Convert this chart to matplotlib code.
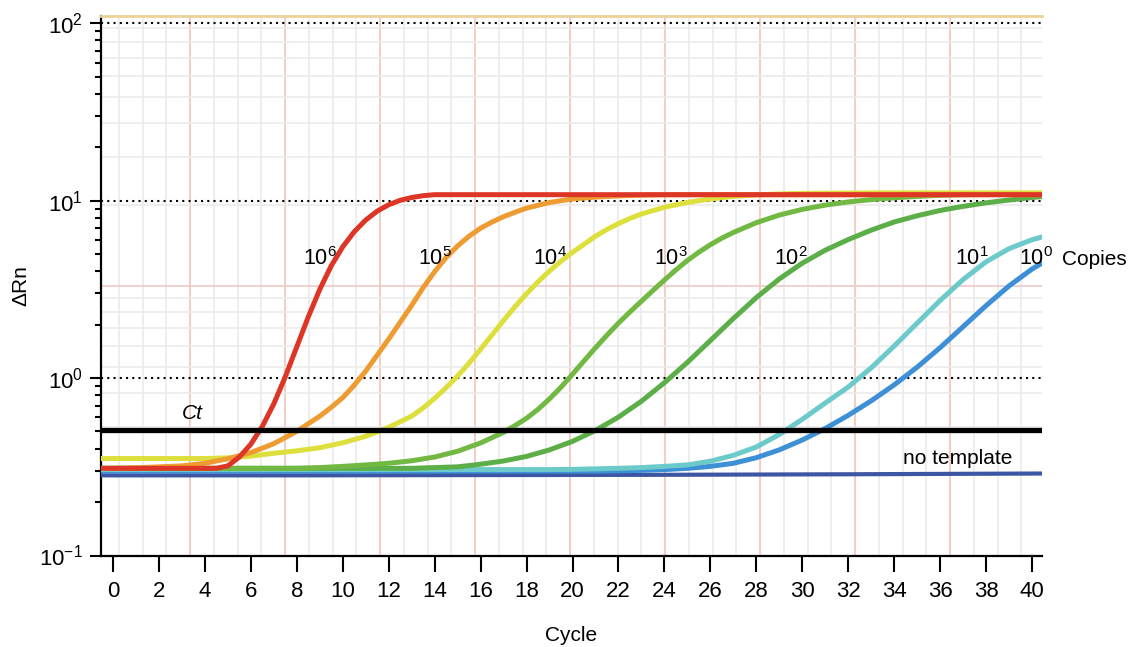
import numpy as np
import matplotlib
matplotlib.use('Agg')
import matplotlib.pyplot as plt
from matplotlib.ticker import LogLocator, NullFormatter

plt.rcParams['font.family'] = ['Liberation Sans', 'DejaVu Sans']
plt.rcParams['mathtext.fontset'] = 'custom'
plt.rcParams['mathtext.rm'] = 'Liberation Sans'
plt.rcParams['mathtext.it'] = 'Liberation Sans:italic'
plt.rcParams['mathtext.bf'] = 'Liberation Sans:bold'

# ---------------- data ----------------
red_cycles = [-1, 4.5, 5, 5.5, 6, 6.5, 7, 7.5, 8, 8.5, 9, 9.5, 10, 10.5, 11, 11.5,
              12, 12.5, 13, 13.5, 14, 41]
red_values = [0.31, 0.31, 0.32, 0.359, 0.424, 0.534, 0.716, 1.017, 1.50, 2.213,
              3.162, 4.295, 5.495, 6.683, 7.78, 8.73, 9.484, 10.05, 10.42, 10.67,
              10.81, 10.81]

orange_cycles = [-1, 0, 1, 2, 3, 4, 5, 6, 7, 8, 9, 9.5, 10, 10.5, 11, 11.5, 12,
                 12.5, 13, 13.5, 14, 14.5, 15, 15.5, 16, 16.5, 17, 17.5, 18, 19,
                 20, 21, 22, 23, 24, 25, 41]
orange_values = [0.31, 0.31, 0.312, 0.316, 0.320, 0.331, 0.351, 0.380, 0.427, 0.501,
                 0.610, 0.684, 0.776, 0.912, 1.096, 1.349, 1.660, 2.065, 2.570,
                 3.236, 3.981, 4.786, 5.559, 6.310, 6.998, 7.586, 8.128, 8.610,
                 9.078, 9.772, 10.23, 10.47, 10.64, 10.74, 10.79, 10.8, 10.8]

yellow_cycles = [-1, 4, 5, 6, 7, 8, 9, 10, 11, 12, 13, 13.5, 14, 14.5, 15, 15.5,
                 16, 16.5, 17, 17.5, 18, 18.5, 19, 19.5, 20, 20.5, 21, 21.5, 22,
                 22.5, 23, 24, 25, 26, 27, 28, 29, 30, 33, 41]
yellow_values = [0.352, 0.352, 0.355, 0.363, 0.377, 0.389, 0.405, 0.432, 0.470,
                 0.528, 0.610, 0.679, 0.769, 0.883, 1.028, 1.216, 1.455, 1.754,
                 2.113, 2.529, 2.992, 3.491, 4.018, 4.560, 5.117, 5.675, 6.310,
                 6.887, 7.430, 7.943, 8.414, 9.183, 9.772, 10.23, 10.57, 10.79,
                 10.91, 10.99, 11.07, 11.07]

green3_cycles = [-1, 8, 9, 10, 11, 12, 13, 14, 15, 16, 17, 17.5, 18, 18.5, 19,
                 19.5, 20, 20.5, 21, 21.5, 22, 22.5, 23, 23.5, 24, 24.5, 25, 25.5,
                 26, 26.5, 27, 28, 29, 30, 31, 32, 33, 34, 35, 36, 37, 39, 41]
green3_values = [0.31, 0.31, 0.313, 0.318, 0.324, 0.331, 0.342, 0.359, 0.387,
                 0.431, 0.495, 0.540, 0.594, 0.667, 0.764, 0.889, 1.052, 1.25,
                 1.483, 1.746, 2.042, 2.36, 2.716, 3.119, 3.573, 4.074, 4.603,
                 5.129, 5.649, 6.152, 6.622, 7.516, 8.299, 8.933, 9.441, 9.84,
                 10.14, 10.38, 10.57, 10.72, 10.81, 10.89, 10.9]

green2_cycles = [-1, 12, 13, 14, 15, 16, 17, 18, 19, 20, 21, 22, 23, 24, 25, 26,
                 27, 28, 29, 30, 31, 32, 33, 34, 35, 36, 37, 38, 39, 40, 41]
green2_values = [0.31, 0.31, 0.310, 0.313, 0.316, 0.327, 0.341, 0.362, 0.394,
                 0.440, 0.507, 0.603, 0.741, 0.942, 1.227, 1.629, 2.168, 2.844,
                 3.622, 4.446, 5.260, 6.039, 6.823, 7.586, 8.222, 8.810, 9.290,
                 9.727, 10.09, 10.42, 10.72]

cyan_cycles = [-1, 19, 20, 21, 22, 23, 24, 25, 26, 27, 28, 29, 30, 31, 32, 33,
               34, 35, 36, 37, 38, 39, 40, 41]
cyan_values = [0.305, 0.305, 0.306, 0.308, 0.310, 0.313, 0.318, 0.324, 0.340,
               0.367, 0.409, 0.481, 0.586, 0.724, 0.891, 1.143, 1.517, 2.042,
               2.742, 3.597, 4.529, 5.370, 6.026, 6.531]

blue_cycles = [-1, 21, 22, 23, 24, 25, 26, 27, 28, 29, 30, 31, 32, 33, 34, 35,
               36, 37, 38, 39, 40, 41]
blue_values = [0.299, 0.299, 0.300, 0.302, 0.305, 0.310, 0.318, 0.331, 0.356,
               0.394, 0.448, 0.520, 0.617, 0.745, 0.916, 1.153, 1.486, 1.950,
               2.564, 3.311, 4.121, 4.920]

nt_cycles = [-1, 8, 16, 24, 32, 41]
nt_values = [0.283, 0.283, 0.284, 0.285, 0.287, 0.290]

ct_threshold = 0.511

series = [
    ("no template", nt_cycles, nt_values, '#3c56a3'),
    ("1e0", blue_cycles, blue_values, '#3d8fd6'),
    ("1e1", cyan_cycles, cyan_values, '#6ccaca'),
    ("1e2", green2_cycles, green2_values, '#5cae48'),
    ("1e3", green3_cycles, green3_values, '#72b944'),
    ("1e4", yellow_cycles, yellow_values, '#dde03c'),
    ("1e5", orange_cycles, orange_values, '#ee9c32'),
    ("1e6", red_cycles, red_values, '#dd3526'),
]

copy_labels = [r'$10^{6}$', r'$10^{5}$', r'$10^{4}$', r'$10^{3}$',
               r'$10^{2}$', r'$10^{1}$', r'$10^{0}$']
copy_label_x = [9.0, 14.0, 19.0, 24.3, 29.5, 37.4, 40.15]

# ---------------- figure ----------------
W, H = 1129, 647
fig = plt.figure(figsize=(W / 100, H / 100), dpi=100)
ax = fig.add_axes([101 / W, 1 - 555.5 / H, 941 / W, 539.5 / H])
ax.set_yscale('log')
xmin, xmax = -0.52, 40.43
ymin, ymax = 0.1, 109.9
ax.set_xlim(xmin, xmax)
ax.set_ylim(ymin, ymax)

# decorative background grid
j = 0
while True:
    c = 0.26 + 1.0335 * j
    if c > xmax:
        break
    if j % 4 == 3:
        ax.axvline(c, color='#f2c9bd', lw=1.3, zorder=0)
    else:
        ax.axvline(c, color='#ebebeb', lw=1.2, zorder=0)
    j += 1
for base in (0.0, 0.5):
    for m in range(1, 10):
        f = base + 0.5 * np.log10(m)
        if f <= 0:
            continue
        col = '#efcaca' if m == 1 else '#ebebeb'
        ax.plot([0, 1], [f, f], transform=ax.transAxes, color=col, lw=1.2, zorder=0)

# dotted decade lines
for v in (1, 10, 100):
    ax.axhline(v, color='black', lw=1.5, ls=(0, (1, 2)), zorder=1)

# curves
for name, xs, ys, col in series:
    lw = 3.0 if name == "no template" else 3.6
    ax.plot(xs, ys, color=col, lw=lw, solid_capstyle='round',
            solid_joinstyle='round', zorder=3)

# threshold
ax.axhline(ct_threshold, color='black', lw=3.8, zorder=5)

# texts
for lab, xc in zip(copy_labels, copy_label_x):
    ax.text(xc, 4.36, lab, ha='center', va='baseline', fontsize=15.5, zorder=6,
            clip_on=False)
ax.text(41.3, 4.36, 'Copies', ha='left', va='baseline', fontsize=15, clip_on=False)
ax.text(2.99, 0.591, 'Ct', ha='left', va='baseline', fontsize=15, style='italic')
ax.text(34.4, 0.327, 'no template', ha='left', va='baseline', fontsize=15)

# spines
ax.spines['right'].set_visible(False)
ax.spines['top'].set_color('#ecd29b')
ax.spines['top'].set_linewidth(2.0)
for s in ('left', 'bottom'):
    ax.spines[s].set_linewidth(1.6)
    ax.spines[s].set_color('black')

# ticks
ax.set_xticks(list(range(0, 41, 2)))
ax.yaxis.set_major_locator(LogLocator(base=10, numticks=10))
ax.yaxis.set_minor_locator(LogLocator(base=10, subs=np.arange(2, 10), numticks=20))
ax.yaxis.set_minor_formatter(NullFormatter())
ax.tick_params(axis='x', which='major', direction='out', length=11.5, width=1.5,
               pad=7, labelsize=16)
ax.tick_params(axis='x', which='minor', bottom=False)
ax.tick_params(axis='y', which='major', direction='out', length=8, width=1.5,
               pad=5, labelsize=16)
ax.tick_params(axis='y', which='minor', direction='out', length=4.5, width=1.5)

ax.set_xlabel('Cycle', fontsize=15, labelpad=17)
ax.set_ylabel('ΔRn', fontsize=15, labelpad=6)

fig.savefig('out.png', dpi=100)
